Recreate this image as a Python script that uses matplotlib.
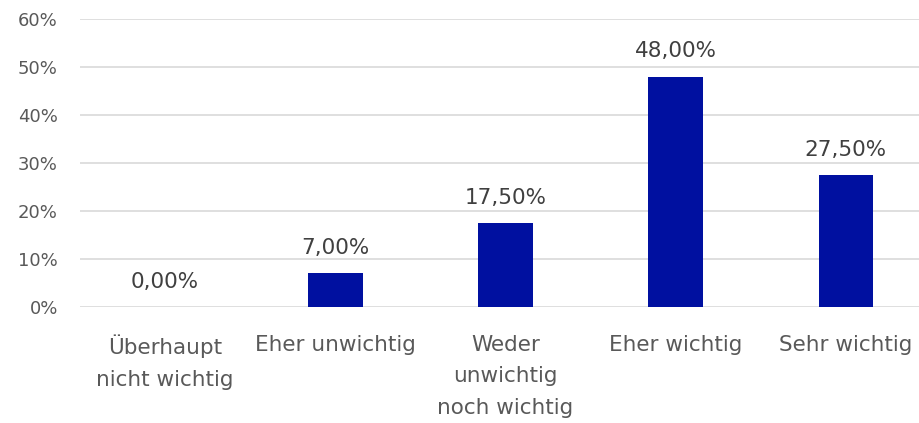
import matplotlib
matplotlib.use("Agg")
from matplotlib import pyplot as plt

plt.rcParams['font.family'] = ['DejaVu Sans']

categories = ["Überhaupt\nnicht wichtig", "Eher unwichtig", "Weder\nunwichtig\nnoch wichtig",
              "Eher wichtig", "Sehr wichtig"]
values = [0.0, 7.0, 17.5, 48.0, 27.5]
labels = ["0,00%", "7,00%", "17,50%", "48,00%", "27,50%"]
yticks = [0, 10, 20, 30, 40, 50, 60]

grey = "#595959"
fig = plt.figure(figsize=(9.19, 4.23), dpi=100)
ax = fig.add_axes([80/919, 1-307/423, 1-80/919, (307-19)/423])

x = range(len(values))
ax.bar(x, values, width=0.32, color="#0010A0", zorder=3)
for i, v in enumerate(values):
    ax.text(i, v + 3.2, labels[i], ha="center", va="bottom", fontsize=15.5, color="#404040")

ax.set_ylim(0, 60)
ax.set_xlim(-0.5, 4.43)
ax.set_yticks(yticks)
ax.set_yticklabels([f"{t}%" for t in yticks], fontsize=13, color=grey)
ax.set_xticks(list(x))
ax.set_xticklabels(categories, fontsize=15.5, color=grey, linespacing=1.72)
ax.tick_params(axis="both", length=0)
ax.tick_params(axis="x", pad=20)
ax.tick_params(axis="y", pad=16)
ax.grid(axis="y", color="#d9d9d9", linewidth=1.2, zorder=0)
for s in ax.spines.values():
    s.set_visible(False)

fig.savefig("out.png", dpi=100)
